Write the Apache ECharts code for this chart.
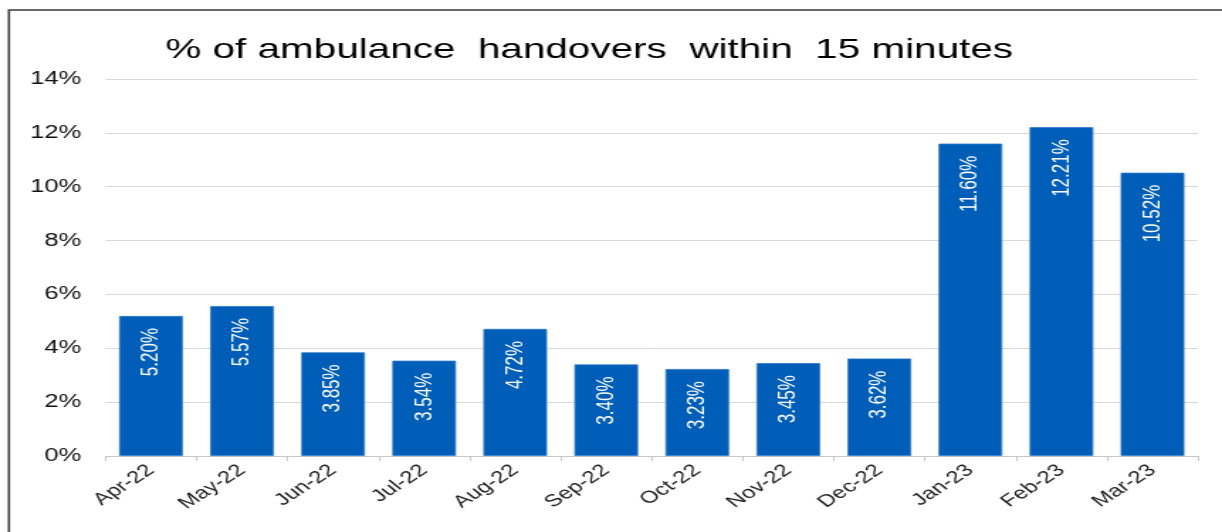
<!DOCTYPE html>
<html>
<head>
<meta charset="utf-8">
<script src="https://cdn.jsdelivr.net/npm/echarts@6/dist/echarts.min.js"></script>
<style>
  html, body { margin: 0; padding: 0; background: #fff; overflow: hidden; }
  #wrap { position: absolute; left: 0; top: 0; width: 1222px; height: 532px; overflow: hidden; }
  #chart { position: absolute; left: 0; top: 0; width: 861px; height: 532px;
           transform: scaleX(1.41928); transform-origin: 0 0; }
</style>
</head>
<body>
<div id="wrap"><div id="chart"></div></div>
<script>
const titleText = '% of ambulance  handovers  within  15 minutes';
const categories = ['Apr-22', 'May-22', 'Jun-22', 'Jul-22', 'Aug-22', 'Sep-22',
                    'Oct-22', 'Nov-22', 'Dec-22', 'Jan-23', 'Feb-23', 'Mar-23'];
const handoverPct = [5.20, 5.57, 3.85, 3.54, 4.72, 3.40, 3.23, 3.45, 3.62, 11.60, 12.21, 10.52];
const yTicks = { min: 0, max: 14, interval: 2 };

const chart = echarts.init(document.getElementById('chart'), null, { renderer: 'canvas' });
const font = "'Liberation Sans', Arial, sans-serif";

chart.setOption({
  animation: false,
  backgroundColor: '#ffffff',
  title: {
    text: titleText,
    left: 111.5,
    top: 31,
    textStyle: { fontFamily: font, fontSize: 28.5, fontWeight: 'normal', color: '#000' }
  },
  graphic: [{
    type: 'rect',
    shape: { x: 6.3, y: 10, width: 2000, height: 2000 },
    style: { fill: 'none', stroke: '#3a3a3a', lineWidth: 1.6 },
    silent: true
  }],
  grid: { left: 74.3, right: 16.9, top: 79, bottom: 76, containLabel: false, outerBoundsMode: 'none' },
  xAxis: {
    type: 'category',
    data: categories,
    axisLine: { lineStyle: { color: '#c8c8c8', width: 1 } },
    axisTick: { show: true, length: 5, lineStyle: { color: '#c8c8c8' } },
    axisLabel: {
      rotate: 42,
      margin: 12,
      interval: 0,
      fontFamily: font,
      fontSize: 17,
      color: '#222'
    }
  },
  yAxis: {
    type: 'value',
    min: yTicks.min,
    max: yTicks.max,
    interval: yTicks.interval,
    axisLine: { show: false },
    axisTick: { show: false },
    splitLine: { lineStyle: { color: '#d9d9d9', width: 1 } },
    axisLabel: {
      margin: 17,
      fontFamily: font,
      fontSize: 18,
      color: '#111',
      formatter: '{value}%'
    }
  },
  series: [{
    type: 'bar',
    data: handoverPct,
    barCategoryGap: '30%',
    itemStyle: { color: '#005EB8', borderColor: '#2f78c6', borderWidth: 0.8 },
    label: {
      show: true,
      position: 'insideTop',
      rotate: 90,
      align: 'right',
      verticalAlign: 'middle',
      distance: 12,
      fontFamily: font,
      fontSize: 17,
      color: '#ffffff',
      formatter: p => p.value.toFixed(2) + '%'
    }
  }]
});
</script>
</body>
</html>
